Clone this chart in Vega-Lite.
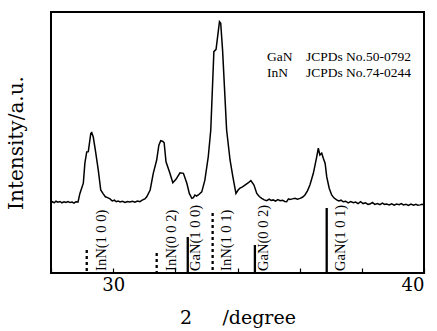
{
  "$schema": "https://vega.github.io/schema/vega-lite/v6.json",
  "width": 373,
  "height": 261,
  "autosize": "none",
  "padding": {"left": 51, "top": 12, "right": 13, "bottom": 58},
  "background": "white",
  "config": {
    "font": "DejaVu Serif",
    "view": {"stroke": "black", "strokeWidth": 2}
  },
  "datasets": {
    "xrd": [
      {"t":28.00,"i":26.8},{"t":28.05,"i":27.3},{"t":28.10,"i":26.9},{"t":28.16,"i":27.5},{"t":28.22,"i":27.1},{"t":28.29,"i":27.4},{"t":28.35,"i":26.9},{"t":28.42,"i":27.3},{"t":28.48,"i":27.0},{"t":28.55,"i":27.4},{"t":28.61,"i":27.0},{"t":28.68,"i":27.2},{"t":28.74,"i":26.8},{"t":28.80,"i":27.3},{"t":28.87,"i":27.2},{"t":28.93,"i":30.5},{"t":29.04,"i":34.4},{"t":29.09,"i":42.1},{"t":29.15,"i":46.4},{"t":29.20,"i":46.5},{"t":29.28,"i":53.5},{"t":29.31,"i":53.8},{"t":29.36,"i":52.1},{"t":29.44,"i":46.0},{"t":29.52,"i":39.5},{"t":29.60,"i":31.8},{"t":29.68,"i":30.3},{"t":29.75,"i":29.2},{"t":29.82,"i":28.9},{"t":29.90,"i":28.4},{"t":29.97,"i":27.6},{"t":30.04,"i":27.9},{"t":30.10,"i":27.3},{"t":30.16,"i":27.6},{"t":30.22,"i":27.2},{"t":30.30,"i":27.5},{"t":30.38,"i":27.0},{"t":30.46,"i":27.4},{"t":30.54,"i":27.2},{"t":30.62,"i":27.5},{"t":30.70,"i":27.1},{"t":30.78,"i":27.6},{"t":30.86,"i":27.3},{"t":30.95,"i":28.0},{"t":31.02,"i":28.4},{"t":31.08,"i":29.2},{"t":31.19,"i":31.8},{"t":31.29,"i":38.2},{"t":31.40,"i":43.3},{"t":31.47,"i":49.0},{"t":31.53,"i":50.7},{"t":31.60,"i":50.4},{"t":31.64,"i":49.9},{"t":31.70,"i":42.6},{"t":31.81,"i":38.8},{"t":31.92,"i":34.6},{"t":32.02,"i":35.9},{"t":32.15,"i":38.4},{"t":32.26,"i":38.2},{"t":32.37,"i":34.4},{"t":32.45,"i":30.5},{"t":32.53,"i":28.6},{"t":32.58,"i":28.9},{"t":32.63,"i":29.9},{"t":32.68,"i":29.5},{"t":32.74,"i":29.9},{"t":32.85,"i":31.1},{"t":32.95,"i":35.6},{"t":33.06,"i":44.6},{"t":33.14,"i":54.8},{"t":33.24,"i":84.8},{"t":33.31,"i":85.7},{"t":33.42,"i":96.3},{"t":33.46,"i":95.7},{"t":33.52,"i":85.4},{"t":33.65,"i":54.8},{"t":33.76,"i":43.3},{"t":33.85,"i":36.9},{"t":33.95,"i":30.5},{"t":34.02,"i":31.8},{"t":34.08,"i":32.5},{"t":34.16,"i":33.0},{"t":34.24,"i":33.7},{"t":34.34,"i":34.5},{"t":34.43,"i":35.4},{"t":34.53,"i":33.7},{"t":34.62,"i":30.5},{"t":34.70,"i":29.3},{"t":34.78,"i":28.6},{"t":34.86,"i":28.0},{"t":34.94,"i":27.7},{"t":35.02,"i":28.3},{"t":35.08,"i":27.8},{"t":35.15,"i":28.0},{"t":35.22,"i":27.5},{"t":35.30,"i":28.1},{"t":35.37,"i":27.7},{"t":35.45,"i":27.9},{"t":35.52,"i":27.4},{"t":35.58,"i":27.3},{"t":35.64,"i":28.4},{"t":35.69,"i":28.2},{"t":35.77,"i":28.4},{"t":35.85,"i":28.6},{"t":35.93,"i":28.3},{"t":36.01,"i":28.6},{"t":36.09,"i":29.0},{"t":36.17,"i":29.9},{"t":36.25,"i":31.5},{"t":36.33,"i":33.7},{"t":36.44,"i":38.2},{"t":36.55,"i":44.6},{"t":36.60,"i":47.8},{"t":36.65,"i":45.2},{"t":36.71,"i":45.9},{"t":36.76,"i":44.0},{"t":36.82,"i":42.0},{"t":36.87,"i":36.9},{"t":36.95,"i":32.5},{"t":37.03,"i":29.9},{"t":37.10,"i":28.8},{"t":37.19,"i":28.0},{"t":37.26,"i":27.6},{"t":37.33,"i":27.9},{"t":37.40,"i":27.3},{"t":37.48,"i":27.5},{"t":37.56,"i":26.9},{"t":37.64,"i":27.4},{"t":37.73,"i":26.9},{"t":37.80,"i":27.2},{"t":37.88,"i":26.6},{"t":37.96,"i":27.3},{"t":38.04,"i":26.6},{"t":38.12,"i":26.9},{"t":38.20,"i":26.3},{"t":38.26,"i":26.4},{"t":38.34,"i":27.0},{"t":38.42,"i":26.3},{"t":38.50,"i":26.6},{"t":38.58,"i":26.2},{"t":38.66,"i":26.8},{"t":38.73,"i":26.3},{"t":38.80,"i":26.4},{"t":38.88,"i":26.1},{"t":38.96,"i":26.5},{"t":39.04,"i":26.0},{"t":39.12,"i":26.4},{"t":39.20,"i":26.2},{"t":39.27,"i":26.6},{"t":39.34,"i":26.1},{"t":39.42,"i":26.3},{"t":39.50,"i":25.9},{"t":39.58,"i":26.4},{"t":39.66,"i":26.0},{"t":39.74,"i":26.3},{"t":39.80,"i":26.0},{"t":39.87,"i":26.1},{"t":39.94,"i":26.3},{"t":40.00,"i":26.1}
    ],
    "refs": [
      {"phase":"InN","label":"InN(1 0 0)","pos":29.15,"rel":8.8,"labelPos":29.63},
      {"phase":"InN","label":"InN(0 0 2)","pos":31.40,"rel":7.7,"labelPos":31.88},
      {"phase":"GaN","label":"GaN(1 0 0)","pos":32.40,"rel":13.8,"labelPos":32.67},
      {"phase":"InN","label":"InN(1 0 1)","pos":33.20,"rel":23.0,"labelPos":33.65},
      {"phase":"GaN","label":"GaN(0 0 2)","pos":34.56,"rel":10.7,"labelPos":34.85},
      {"phase":"GaN","label":"GaN(1 0 1)","pos":36.87,"rel":24.9,"labelPos":37.33}
    ],
    "cards": [
      {"phase":"GaN","card":"JCPDs No.50-0792","row":82.8},
      {"phase":"InN","card":"JCPDs No.74-0244","row":76.6}
    ]
  },
  "layer": [
    {
      "data": {"name": "xrd"},
      "mark": {"type": "line", "color": "black", "strokeWidth": 1.5, "interpolate": "linear"},
      "encoding": {
        "x": {
          "field": "t", "type": "quantitative",
          "scale": {"domain": [28, 40], "nice": false},
          "axis": {
            "title": "2\u00a0\u00a0\u00a0\u00a0\u00a0/degree",
            "titleFont": "DejaVu Serif", "titleFontSize": 19, "titleFontWeight": "normal", "titleColor": "black",
            "titlePadding": 14,
            "values": [28,29,30,31,32,33,34,35,36,37,38,39,40],
            "labelExpr": "datum.value % 5 === 0 ? datum.label : ''",
            "labelFont": "DejaVu Serif", "labelFontSize": 18, "labelColor": "black",
            "labelPadding": 8,
            "tickSize": -5, "tickColor": "black", "tickWidth": 1.2,
            "domain": false, "grid": false
          }
        },
        "y": {
          "field": "i", "type": "quantitative",
          "scale": {"domain": [0, 100], "nice": false, "zero": true},
          "axis": {
            "title": "Intensity/a.u.",
            "titleFont": "DejaVu Serif", "titleFontSize": 20, "titleFontWeight": "normal", "titleColor": "black",
            "titlePadding": 25,
            "labels": false, "ticks": false, "domain": false, "grid": false
          }
        }
      }
    },
    {
      "data": {"name": "refs"},
      "mark": {"type": "rule", "color": "black", "strokeWidth": 2.3},
      "encoding": {
        "x": {"field": "pos", "type": "quantitative"},
        "y": {"field": "rel", "type": "quantitative"},
        "y2": {"datum": 0},
        "strokeDash": {
          "field": "phase", "type": "nominal",
          "scale": {"domain": ["GaN", "InN"], "range": [[1, 0], [3, 3]]},
          "legend": null
        }
      }
    },
    {
      "data": {"name": "refs"},
      "mark": {"type": "text", "angle": 270, "align": "left", "baseline": "middle", "font": "Liberation Serif", "fontSize": 14.5, "color": "black"},
      "encoding": {
        "x": {"field": "labelPos", "type": "quantitative"},
        "y": {"datum": 0.8},
        "text": {"field": "label"}
      }
    },
    {
      "data": {"name": "cards"},
      "mark": {"type": "text", "align": "left", "baseline": "middle", "font": "Liberation Serif", "fontSize": 13.5, "color": "black"},
      "encoding": {
        "x": {"datum": 34.95},
        "y": {"field": "row", "type": "quantitative"},
        "text": {"field": "phase"}
      }
    },
    {
      "data": {"name": "cards"},
      "mark": {"type": "text", "align": "left", "baseline": "middle", "font": "Liberation Serif", "fontSize": 13.5, "color": "black"},
      "encoding": {
        "x": {"datum": 36.2},
        "y": {"field": "row", "type": "quantitative"},
        "text": {"field": "card"}
      }
    }
  ]
}
